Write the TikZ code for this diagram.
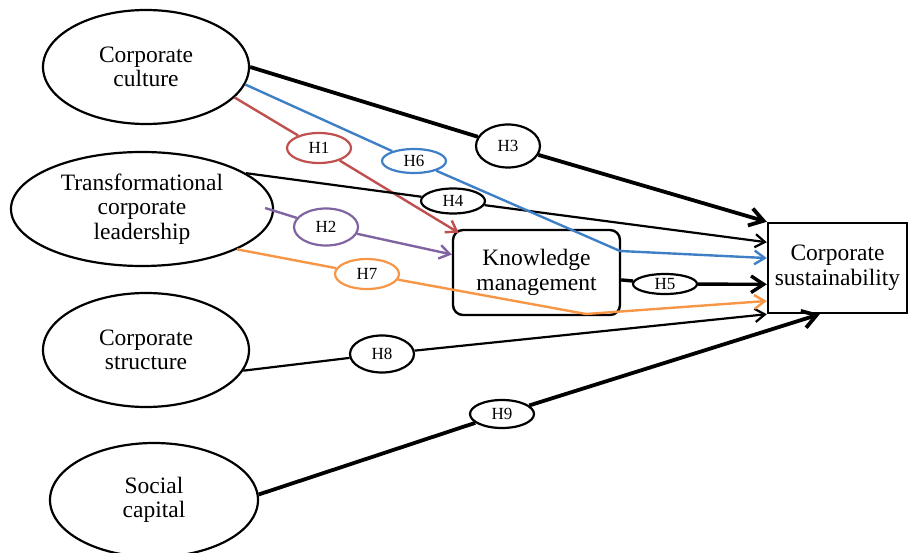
\documentclass[tikz,border=0pt]{standalone}
\usepackage{fontspec}
\setmainfont{Liberation Serif}
\usetikzlibrary{calc,arrows.meta,shapes.geometric}
\definecolor{hred}{HTML}{C0504D}
\definecolor{hblue}{HTML}{3F7FC6}
\definecolor{hpurple}{HTML}{8064A2}
\definecolor{horange}{HTML}{F79646}
\newcommand{\Main}{\fontsize{23.5}{24.5}\selectfont}
\newcommand{\Hyp}{\fontsize{17}{18}\selectfont}

\begin{document}
\begin{tikzpicture}[x=1pt,y=-1pt, font=\Main,
    construct/.style={ellipse, draw, line width=2.2pt, inner sep=0pt, align=center},
    hyp/.style={ellipse, draw, line width=2.2pt, inner sep=0pt, font=\Hyp, minimum width=64pt},
    barb/.style={-{Straight Barb[length=4.5pt 2.4, width=7pt 2.8]}}]
  \useasboundingbox (0,0) rectangle (909,553);
  \node[construct, minimum width=206pt, minimum height=114pt] (culture) at (146,67) {Corporate\\culture};
  \node[construct, minimum width=262pt, minimum height=114pt] (leader) at (142,209) {Transformational\\corporate\\leadership};
  \node[construct, minimum width=206pt, minimum height=114pt] (struct) at (146,350) {Corporate\\structure};
  \node[construct, minimum width=208pt, minimum height=114pt] (social) at (154,500) {Social\\capital};
  \node[draw, line width=2.4pt, rounded corners=10pt, minimum width=167pt, minimum height=85pt, align=center] (km) at (536.5,272.5) {Knowledge\\management};
  \node[draw, line width=2.4pt, minimum width=139pt, minimum height=90pt, align=center] (sust) at (837.5,268) {Corporate\\sustainability};
  % hypothesis labels
  \foreach \i/\x/\y/\h/\c in {1/319/148/30/hred, 2/326/227/37/hpurple, 3/508/146/43/black,
      4/453/201/25/black, 5/665/284/20/black, 6/414/161/24/hblue, 7/367/274/30/horange,
      8/382/354/37/black, 9/502/414/28/black}
    \node[hyp, draw=\c, minimum height=\h pt] (h\i) at (\x,\y) {H\i};
  \coordinate (kmtl) at ($(km.north west)+(7,4)$);
  \coordinate (lead2) at ($(leader.east)+(-9,-1)$);
  \coordinate (b6) at (620,251);
  \coordinate (b7) at (586,314);
  \foreach \s/\i/\t/\c/\w in {culture.east/3/sust.north west/black/3.8, culture.-19/1/kmtl/hred/2.4,
      leader.19/4/sust.160/black/2.2, lead2/2/km.168/hpurple/2.4, km.-5/5/sust.193/black/3.4,
      struct.-12/8/sust.south west/black/2.2, social.3/9/sust.249/black/3.8}{
    \draw[line width=\w pt, color=\c] (\s) -- (h\i);
    \draw[line width=\w pt, color=\c, barb] (h\i) -- (\t);}
  \draw[line width=2.4pt, hblue] (culture.-10) -- (h6);
  \draw[line width=2.4pt, hblue, barb] (h6) -- (b6) -- (sust.172);
  \draw[line width=2.4pt, horange] (leader.-23) -- (h7);
  \draw[line width=2.4pt, horange, barb] (h7) -- (b7) -- (sust.205);
\end{tikzpicture}
\end{document}
